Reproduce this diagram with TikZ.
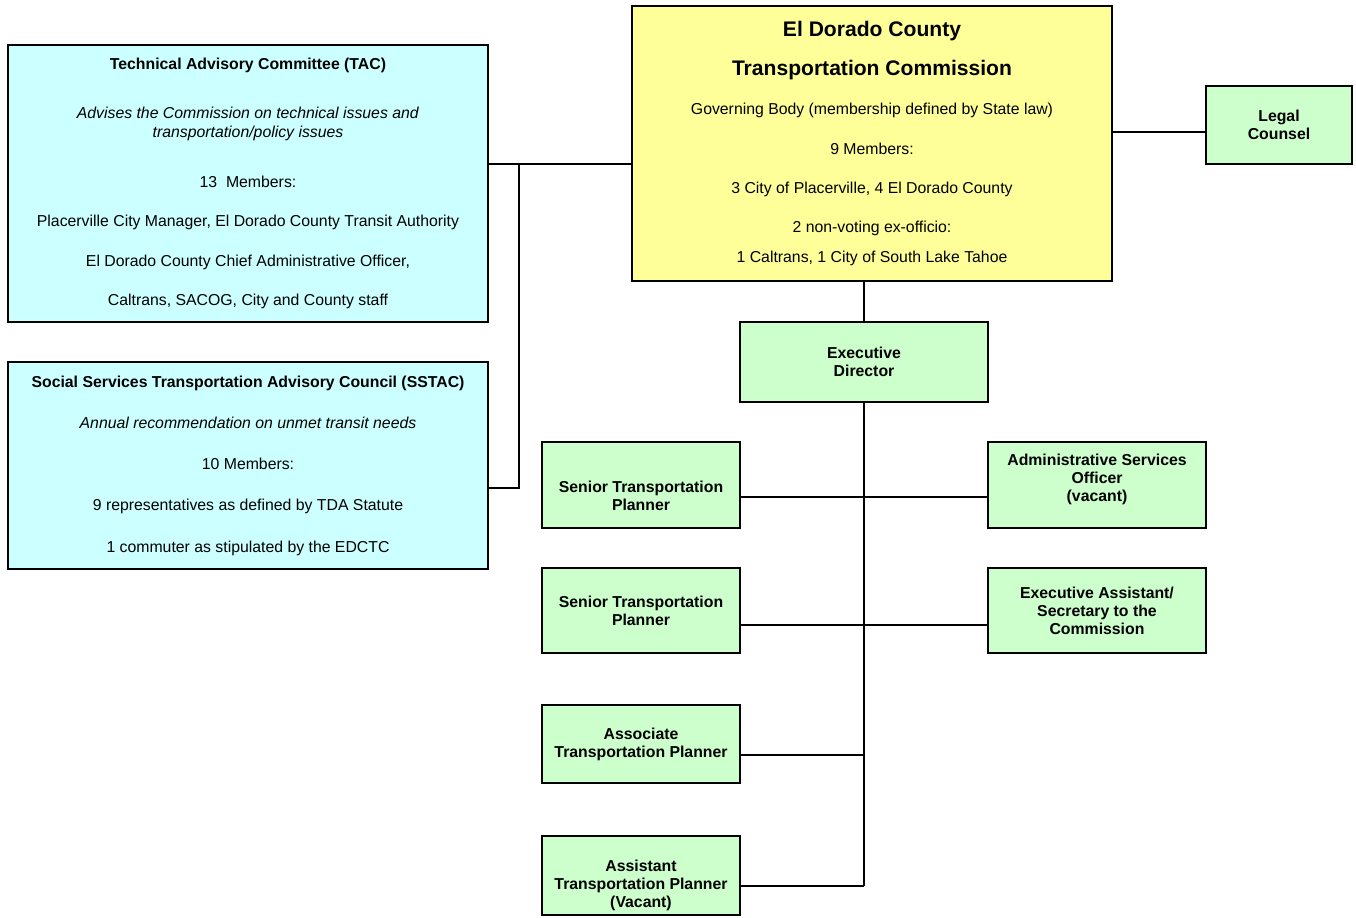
\documentclass[tikz,border=0pt]{standalone}
\usepackage{fontspec}
\setmainfont{Liberation Sans}

\definecolor{panelcyan}{HTML}{CCFFFF}
\definecolor{boardyellow}{HTML}{FFFF99}
\definecolor{staffgreen}{HTML}{CCFFCC}

\tikzset{
	box/.style={draw, line width=1.1pt, inner sep=0pt, align=center},
	panel/.style={box, fill=panelcyan, minimum width=9.6cm},
	board/.style={box, fill=boardyellow, minimum width=9.6cm, minimum height=5.5cm,
		font=\fontsize{9}{22.4}\selectfont},
	staff/.style={box, fill=staffgreen, font=\fontsize{9}{10.3}\selectfont\bfseries},
	stafftext/.style={inner sep=0pt, align=center, font=\fontsize{9}{10.3}\selectfont\bfseries},
	link/.style={line width=1.1pt}
}

\begin{document}
\begin{tikzpicture}[x=0.02cm, y=-0.02cm]
	\useasboundingbox (0,0) rectangle (1356,917);

	% Advisory bodies on the left
	\node[panel, minimum height=5.54cm, font=\fontsize{9}{22.4}\selectfont] (tac) at (248,183.5) {
		\textbf{Technical Advisory Committee (TAC)}\\[5.4pt]
		\textit{Advises the Commission on technical issues and}\\[-11.6pt]
		\textit{transportation/policy issues}\\[5.9pt]
		13~~Members:\\
		Placerville City Manager, El Dorado County Transit Authority\\
		El Dorado County Chief Administrative Officer,\\
		Caltrans, SACOG, City and County staff};
	\node[panel, minimum height=4.14cm, font=\fontsize{9}{23.5}\selectfont] (sstac) at (248,465.5) {
		\textbf{Social Services Transportation Advisory Council (SSTAC)}\\
		\textit{Annual recommendation on unmet transit needs}\\
		10 Members:\\
		9 representatives as defined by TDA Statute\\
		1 commuter as stipulated by the EDCTC};

	% The Commission
	\node[board] (ctc) at (872,143.5) {
		{\fontsize{12}{14}\selectfont\bfseries El Dorado County}\\
		{\fontsize{12}{14}\selectfont\bfseries Transportation Commission}\\
		Governing Body (membership defined by State law)\\
		9 Members:\\
		3 City of Placerville, 4 El Dorado County\\
		2 non-voting ex-officio:\\[-5.4pt]
		1 Caltrans, 1 City of South Lake Tahoe};
	\node[staff, minimum width=2.92cm, minimum height=1.56cm] (legal) at (1279,125) {Legal\\Counsel};

	% Staff
	\node[staff, minimum width=4.96cm, minimum height=1.6cm] (ed) at (864,362) {Executive\\Director};
	\node[staff, minimum width=3.96cm, minimum height=1.72cm,
		label={[stafftext, name=stp1t, yshift=-6pt]center:Senior Transportation\\Planner}] (stp1) at (641,485) {};
	\node[staff, minimum width=4.36cm, minimum height=1.72cm,
		label={[stafftext, name=asot, yshift=3.4pt]center:Administrative Services\\Officer\\(vacant)}] (aso) at (1097,485) {};
	\node[staff, minimum width=3.96cm, minimum height=1.7cm] (stp2) at (641,610.5) {Senior Transportation\\Planner};
	\node[staff, minimum width=4.36cm, minimum height=1.7cm] (ea) at (1097,610.5) {Executive Assistant/\\Secretary to the\\Commission};
	\node[staff, minimum width=3.96cm, minimum height=1.56cm] (assoc) at (641,744) {Associate\\Transportation Planner};
	\node[staff, minimum width=3.96cm, minimum height=1.58cm,
		label={[stafftext, name=asstt, yshift=-5.7pt]center:Assistant\\Transportation Planner\\(Vacant)}] (asst) at (641,875.5) {};

	% Junction points
	\coordinate (tj) at (519,164);
	\coordinate (sj) at (519,488);
	\coordinate (lj) at (1160,132);
	\coordinate (r1) at (864,497);
	\coordinate (r2) at (864,625);
	\coordinate (r3) at (864,755);
	\coordinate (spine) at (864,886);

	% Connectors
	\draw[link] (tj -| tac.east) -- (tj -| ctc.west);
	\draw[link] (tj) -- (sj) -- (sj -| sstac.east);
	\draw[link] (lj -| ctc.east) -- (lj -| legal.west);
	\draw[link] (ed.north |- ctc.south) -- (ed.north);
	\draw[link] (ed.south) -- (spine);
	\draw[link] (r1 -| stp1.east) -- (r1 -| aso.west);
	\draw[link] (r2 -| stp2.east) -- (r2 -| ea.west);
	\draw[link] (r3 -| assoc.east) -- (r3);
	\draw[link] (spine -| asst.east) -- (spine);
\end{tikzpicture}
\end{document}
